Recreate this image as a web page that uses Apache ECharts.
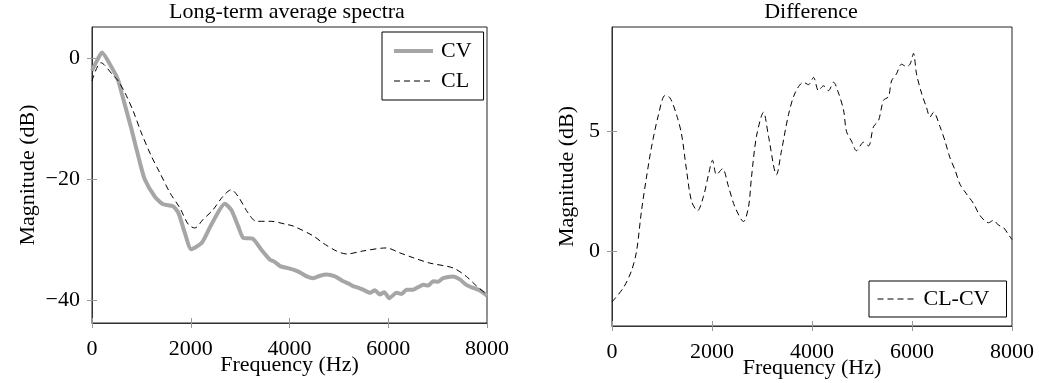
<!DOCTYPE html>
<html>
<head>
<meta charset="utf-8">
<script src="https://cdn.jsdelivr.net/npm/echarts@6/dist/echarts.min.js"></script>
<style>
html,body{margin:0;padding:0;background:#fff;}
#chart{width:1039px;height:383px;}
</style>
</head>
<body>
<div id="chart"></div>
<script>
// ---- data ----
const cvFreq = [0, 100, 200, 400, 530, 600, 800, 970, 1070, 1270, 1440, 1640, 1750, 1880, 2010, 2220, 2420, 2690, 2820, 2960, 3060, 3260, 3430, 3600, 3700, 3810, 3950, 4080, 4200, 4350, 4480, 4620, 4750, 4920, 5090, 5200, 5290, 5400, 5490, 5630, 5730, 5830, 5920, 6020, 6170, 6270, 6370, 6500, 6600, 6710, 6810, 6910, 7010, 7110, 7310, 7450, 7580, 7720, 7850, 8000];
const cvMag  = [-2.0, -0.4, 1.0, -1.5, -3.6, -5.7, -11.7, -17.2, -20.0, -22.8, -24.1, -24.4, -25.5, -28.8, -31.5, -30.5, -27.4, -24.0, -25.0, -27.7, -29.6, -29.8, -31.6, -33.2, -33.6, -34.3, -34.6, -34.9, -35.3, -36.0, -36.3, -35.9, -35.7, -36.0, -36.8, -37.2, -37.6, -37.9, -38.2, -38.7, -38.3, -39.0, -38.6, -39.6, -38.7, -38.9, -38.2, -38.2, -37.8, -37.4, -37.5, -36.8, -36.9, -36.3, -36.0, -36.5, -37.4, -37.9, -38.3, -39.2];

const clFreq = [0, 180, 440, 530, 670, 835, 1000, 1200, 1375, 1580, 1780, 1950, 2080, 2250, 2450, 2650, 2820, 2960, 3160, 3330, 3630, 3930, 4080, 4480, 4680, 4950, 5160, 5490, 5960, 6230, 6500, 6840, 7310, 7580, 7790, 8000];
const clMag  = [-3.7, -0.7, -2.9, -3.7, -5.7, -8.7, -12.3, -16.1, -18.9, -22.2, -24.7, -27.4, -28.0, -26.6, -25.0, -22.8, -21.7, -22.8, -25.5, -26.9, -26.9, -27.4, -27.7, -29.3, -30.5, -31.8, -32.3, -31.8, -31.3, -32.1, -32.9, -33.8, -34.6, -36.0, -37.6, -39.0];

const diffFreq = [0, 230, 390, 490, 590, 690, 790, 930, 1060, 1160, 1290, 1390, 1490, 1590, 1710, 1830, 1930, 2010, 2090, 2210, 2330, 2460, 2630, 2730, 2790, 2890, 3030, 3130, 3290, 3390, 3530, 3660, 3830, 3930, 4030, 4130, 4230, 4330, 4430, 4530, 4630, 4690, 4790, 4890, 5030, 5130, 5230, 5330, 5430, 5530, 5590, 5690, 5790, 5890, 5960, 6030, 6090, 6190, 6290, 6360, 6430, 6560, 6660, 6760, 6860, 6960, 7090, 7230, 7360, 7530, 7630, 7730, 7830, 7930, 8000];
const diffMag  = [-2.1, -1.5, -0.8, 0.0, 1.7, 3.1, 4.35, 5.7, 6.5, 6.4, 5.7, 4.9, 3.4, 2.1, 1.7, 2.3, 3.2, 3.8, 3.2, 3.45, 2.7, 1.85, 1.25, 1.85, 3.1, 4.8, 5.8, 4.8, 3.2, 4.2, 5.7, 6.6, 7.05, 6.95, 7.25, 6.7, 6.9, 6.7, 7.05, 6.6, 5.9, 5.0, 4.6, 4.2, 4.55, 4.4, 5.2, 5.45, 6.3, 6.45, 7.1, 7.4, 7.8, 7.7, 7.8, 8.25, 7.4, 6.6, 6.0, 5.6, 5.8, 5.2, 4.6, 3.9, 3.4, 2.8, 2.4, 2.0, 1.5, 1.2, 1.3, 1.1, 1.0, 0.7, 0.5];

const xTicks = [0, 2000, 4000, 6000, 8000];
const leftYTicks = [-40, -20, 0];
const rightYTicks = [0, 5];

const leftTitle = 'Long-term average spectra';
const rightTitle = 'Difference';
const xName = 'Frequency (Hz)';
const yName = 'Magnitude (dB)';

// ---- chart ----
const FONT = 'Liberation Serif';
const pair = (f, m) => f.map((x, i) => [x, m[i]]);
const fmt = v => (v < 0 ? '\u2212' + Math.abs(v) : String(v));

function mainX(grid) {
  return {
    type: 'value', gridIndex: grid, min: 0, max: 8000, position: 'bottom',
    name: xName, nameLocation: 'middle', nameGap: 31, nameMoveOverlap: false,
    nameTextStyle: { fontFamily: FONT, fontSize: 22, color: '#000' },
    axisLine: { show: true, onZero: false, lineStyle: { color: '#333', width: 1 } },
    axisTick: { show: true, inside: false, length: 5, lineStyle: { color: '#999' }, customValues: xTicks },
    axisLabel: { show: true, fontFamily: FONT, fontSize: 22, color: '#000', margin: 15, customValues: xTicks, formatter: fmt },
    splitLine: { show: false }
  };
}
function dummyX(grid) {
  return {
    type: 'value', gridIndex: grid, min: 0, max: 8000, position: 'bottom',
    axisLine: { show: false, onZero: false },
    axisTick: { show: true, inside: true, length: 5, lineStyle: { color: '#999' }, customValues: xTicks },
    axisLabel: { show: false }, splitLine: { show: false }
  };
}
function mainY(grid, min, max, ticks, gap) {
  return {
    type: 'value', gridIndex: grid, min: min, max: max, position: 'left',
    name: yName, nameLocation: 'middle', nameGap: gap, nameRotate: 90, nameMoveOverlap: false,
    nameTextStyle: { fontFamily: FONT, fontSize: 22, color: '#000' },
    axisLine: { show: true, onZero: false, lineStyle: { color: '#333', width: 1 } },
    axisTick: { show: true, inside: false, length: 5, lineStyle: { color: '#999' }, customValues: ticks },
    axisLabel: { show: true, fontFamily: FONT, fontSize: 22, color: '#000', margin: 12, customValues: ticks, formatter: fmt },
    splitLine: { show: false }
  };
}
function dummyY(grid, min, max, ticks) {
  return {
    type: 'value', gridIndex: grid, min: min, max: max, position: 'left',
    axisLine: { show: false, onZero: false },
    axisTick: { show: true, inside: true, length: 5, lineStyle: { color: '#999' }, customValues: ticks },
    axisLabel: { show: false }, splitLine: { show: false }
  };
}

const hiddenSymbol = { color: 'rgba(0,0,0,0)', borderColor: 'rgba(0,0,0,0)', borderWidth: 0 };

const chart = echarts.init(document.getElementById('chart'), null, { renderer: 'canvas' });
chart.setOption({
  backgroundColor: '#fff',
  animation: false,
  title: [
    { text: leftTitle, left: 287, top: 1, textAlign: 'center', padding: 0,
      textStyle: { fontFamily: FONT, fontSize: 22, fontWeight: 'normal', color: '#000' } },
    { text: rightTitle, left: 811, top: 1, textAlign: 'center', padding: 0,
      textStyle: { fontFamily: FONT, fontSize: 22, fontWeight: 'normal', color: '#000' } }
  ],
  grid: [
    { left: 92, top: 27, width: 395, height: 296, show: true, borderColor: '#222', borderWidth: 1,
      backgroundColor: 'transparent', containLabel: false, outerBoundsMode: 'none' },
    { left: 612, top: 27, width: 400, height: 299, show: true, borderColor: '#222', borderWidth: 1,
      backgroundColor: 'transparent', containLabel: false, outerBoundsMode: 'none' }
  ],
  legend: [
    { data: [
        { name: 'CV', itemStyle: hiddenSymbol, lineStyle: { color: '#a6a6a6', width: 4 } },
        { name: 'CL', itemStyle: hiddenSymbol, lineStyle: { color: '#000', width: 1, type: [6, 4] } }
      ],
      orient: 'vertical', left: 382, top: 32, padding: [8, 12, 8, 10], itemGap: 8,
      itemWidth: 39, itemHeight: 14, borderColor: '#000', borderWidth: 1, backgroundColor: '#fff',
      itemStyle: hiddenSymbol,
      textStyle: { fontFamily: FONT, fontSize: 22, color: '#000', padding: [0, 0, 0, 3] } },
    { data: [
        { name: 'CL-CV', itemStyle: hiddenSymbol, lineStyle: { color: '#000', width: 1, type: [6, 4] } }
      ],
      orient: 'vertical', left: 869, top: 281, padding: [7, 17, 7, 8], itemGap: 8,
      itemWidth: 36, itemHeight: 14, borderColor: '#000', borderWidth: 1, backgroundColor: '#fff',
      itemStyle: hiddenSymbol,
      textStyle: { fontFamily: FONT, fontSize: 22, color: '#000', padding: [0, 0, 0, 5] } }
  ],
  xAxis: [mainX(0), mainX(1), dummyX(0), dummyX(1)],
  yAxis: [mainY(0, -43.7, 5.2, leftYTicks, 53), mainY(1, -3.1, 9.35, rightYTicks, 34),
          dummyY(0, -43.7, 5.2, leftYTicks), dummyY(1, -3.1, 9.35, rightYTicks)],
  series: [
    { name: 'CV', type: 'line', xAxisIndex: 0, yAxisIndex: 0, data: pair(cvFreq, cvMag),
      symbol: 'none', smooth: 0.2, z: 2,
      lineStyle: { color: '#a6a6a6', width: 4 }, itemStyle: { color: '#a6a6a6' } },
    { name: 'CL', type: 'line', xAxisIndex: 0, yAxisIndex: 0, data: pair(clFreq, clMag),
      symbol: 'none', smooth: 0.3, z: 3,
      lineStyle: { color: '#000', width: 1, type: [6, 4] }, itemStyle: { color: '#000' } },
    { name: 'CL-CV', type: 'line', xAxisIndex: 1, yAxisIndex: 1, data: pair(diffFreq, diffMag),
      symbol: 'none', smooth: 0.3, z: 3,
      lineStyle: { color: '#000', width: 1, type: [6, 4] }, itemStyle: { color: '#000' } }
  ]
});
</script>
</body>
</html>
